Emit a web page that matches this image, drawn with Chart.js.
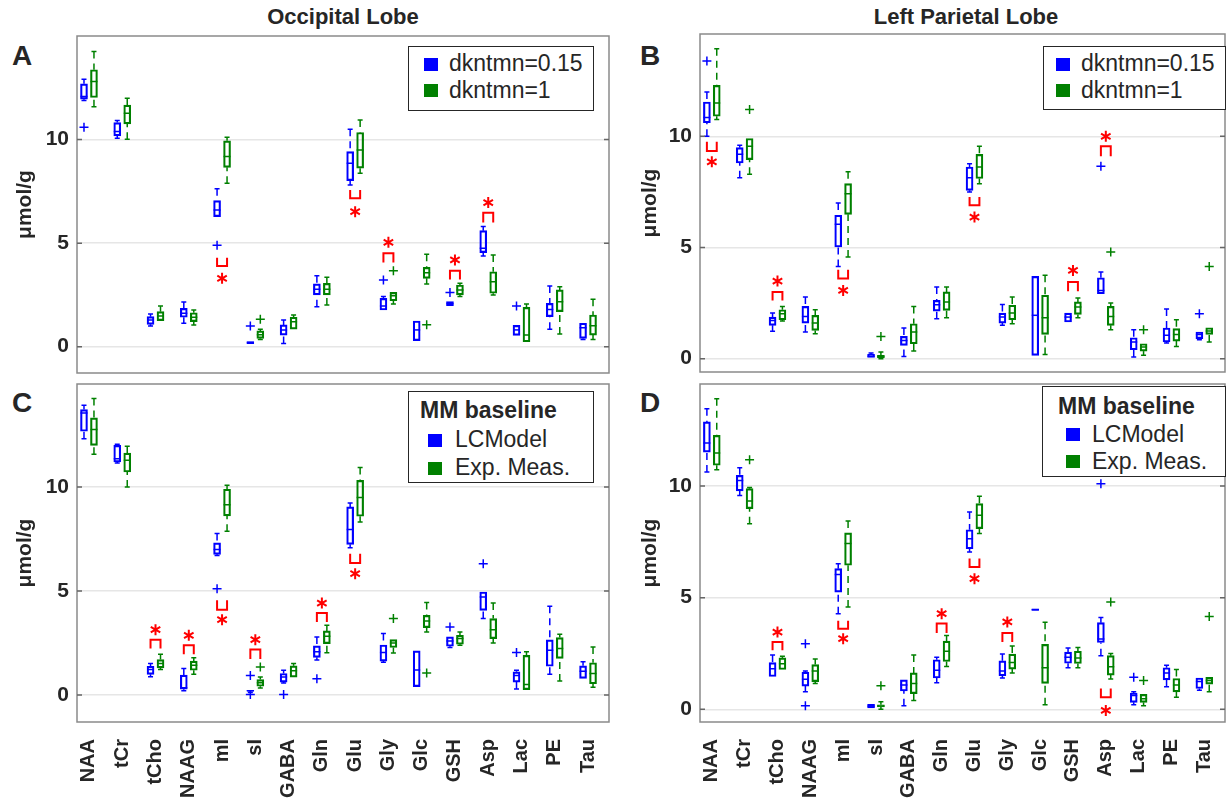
<!DOCTYPE html>
<html>
<head>
<meta charset="utf-8">
<script src="https://cdn.jsdelivr.net/npm/chart.js@4.4.1/dist/chart.umd.min.js"></script>
<style>
  body { margin: 0; background: #fff; width: 1231px; height: 798px; position: relative; overflow: hidden;
         font-family: "Liberation Sans", Arial, sans-serif; color: #262626; }
  canvas { position: absolute; }
  .title { position: absolute; font-weight: bold; font-size: 22px; line-height: 22px; white-space: nowrap; transform: translateX(-50%); }
  .letter { position: absolute; font-weight: bold; font-size: 28px; line-height: 28px; }
  .legend { position: absolute; box-sizing: border-box; border: 1.5px solid #262626; background: #fff; }
  .legend span { position: absolute; white-space: nowrap; font-size: 23px; line-height: 23px; }
  .legend .head { font-weight: bold; }
  .legend .sw { width: 14px; height: 13px; }
</style>
</head>
<body>
<div class="title" style="left:343px;top:6px">Occipital Lobe</div>
<div class="title" style="left:966px;top:6px">Left Parietal Lobe</div>
<div class="letter" style="left:12px;top:42px">A</div>
<div class="letter" style="left:640px;top:42px">B</div>
<div class="letter" style="left:12px;top:389px">C</div>
<div class="letter" style="left:640px;top:389px">D</div>

<canvas id="panelA" width="615" height="380" style="left:0;top:0"></canvas>
<canvas id="panelB" width="606" height="380" style="left:625px;top:0"></canvas>
<canvas id="panelC" width="615" height="420" style="left:0;top:378px"></canvas>
<canvas id="panelD" width="606" height="420" style="left:625px;top:378px"></canvas>

<div class="legend" style="left:408px;top:46px;width:186px;height:65px">
  <span class="sw" style="left:15px;top:11px;background:#0000ff"></span><span style="left:40px;top:5px">dkntmn=0.15</span>
  <span class="sw" style="left:15px;top:37px;background:#008000"></span><span style="left:40px;top:32px">dkntmn=1</span>
</div>
<div class="legend" style="left:1043px;top:46px;width:183px;height:64px">
  <span class="sw" style="left:12px;top:11px;background:#0000ff"></span><span style="left:37px;top:5px">dkntmn=0.15</span>
  <span class="sw" style="left:12px;top:37px;background:#008000"></span><span style="left:37px;top:32px">dkntmn=1</span>
</div>
<div class="legend" style="left:408px;top:391px;width:186px;height:92px">
  <span class="head" style="left:11px;top:7px">MM baseline</span>
  <span class="sw" style="left:19px;top:42px;background:#0000ff"></span><span style="left:46px;top:36px">LCModel</span>
  <span class="sw" style="left:19px;top:70px;background:#008000"></span><span style="left:46px;top:64px">Exp. Meas.</span>
</div>
<div class="legend" style="left:1042px;top:386px;width:184px;height:91px">
  <span class="head" style="left:15px;top:8px">MM baseline</span>
  <span class="sw" style="left:23px;top:41px;background:#0000ff"></span><span style="left:49px;top:36px">LCModel</span>
  <span class="sw" style="left:23px;top:68px;background:#008000"></span><span style="left:49px;top:63px">Exp. Meas.</span>
</div>

<script>
const categories = ['NAA', 'tCr', 'tCho', 'NAAG', 'mI', 'sI', 'GABA', 'Gln', 'Glu', 'Gly', 'Glc', 'GSH', 'Asp', 'Lac', 'PE', 'Tau'];
const yTicks = [0, 5, 10];

// each row: [lower whisker, Q1, median, Q3, upper whisker], one row per metabolite
const occDkn015 = [
  [11.88, 11.95, 12.08, 12.69, 12.91], [10.06, 10.18, 10.39, 10.82, 10.92], [1.0, 1.08, 1.29, 1.45, 1.58],
  [1.13, 1.42, 1.61, 1.85, 2.16], [6.25, 6.28, 6.60, 7.05, 7.63], [0.13, 0.15, 0.2, 0.25, 0.27],
  [0.16, 0.56, 0.81, 1.05, 1.29], [1.93, 2.50, 2.77, 3.03, 3.43], [7.81, 8.02, 8.86, 9.42, 10.5],
  [1.74, 1.77, 1.96, 2.33, 2.42], [0.29, 0.29, 0.81, 1.24, 1.24], [1.94, 1.98, 2.08, 2.18, 2.2],
  [4.38, 4.54, 4.75, 5.60, 5.80], [0.52, 0.55, 0.81, 1.03, 1.06], [0.84, 1.45, 1.80, 2.09, 2.93],
  [0.35, 0.40, 0.92, 1.13, 1.16]
];
const occDkn1 = [
  [11.59, 12.03, 12.80, 13.37, 14.25], [10.02, 10.76, 11.27, 11.66, 12.0], [1.24, 1.26, 1.48, 1.69, 1.96],
  [1.05, 1.21, 1.42, 1.64, 1.77], [7.89, 8.66, 9.18, 9.94, 10.11], [0.35, 0.40, 0.58, 0.76, 0.84],
  [0.81, 0.85, 1.21, 1.42, 1.53], [2.01, 2.50, 2.77, 3.06, 3.35], [8.37, 8.62, 9.50, 10.34, 10.95],
  [2.06, 2.22, 2.46, 2.62, 2.65], [3.03, 3.30, 3.57, 3.83, 4.46], [2.42, 2.50, 2.74, 2.98, 3.06],
  [2.50, 2.58, 3.14, 3.62, 4.43], [0.24, 0.24, 0.56, 1.90, 2.06], [0.61, 1.69, 2.17, 2.74, 2.90],
  [0.35, 0.56, 1.01, 1.53, 2.29]
];
const parDkn015 = [
  [10.0, 10.61, 10.84, 11.54, 11.99], [8.14, 8.80, 9.19, 9.49, 9.6], [1.23, 1.50, 1.72, 1.87, 2.05],
  [1.20, 1.60, 1.90, 2.35, 2.77], [4.15, 5.02, 6.04, 6.45, 7.0], [0.04, 0.06, 0.11, 0.19, 0.25],
  [0.1, 0.6, 0.82, 1.0, 1.38], [1.80, 2.14, 2.42, 2.62, 3.22], [7.50, 7.57, 8.14, 8.62, 8.77],
  [1.50, 1.60, 1.87, 2.05, 2.44], [0.15, 0.15, 1.95, 3.70, 3.70], [1.62, 1.65, 1.87, 2.05, 2.08],
  [2.89, 2.92, 3.07, 3.64, 3.90], [0.07, 0.40, 0.75, 0.94, 1.30], [0.70, 0.75, 1.05, 1.38, 2.23],
  [0.85, 0.90, 1.09, 1.20, 1.24]
];
const parDkn1 = [
  [10.75, 10.9, 11.5, 12.29, 13.94], [8.29, 8.95, 9.55, 9.90, 9.92], [1.69, 1.75, 2.02, 2.20, 2.35],
  [1.12, 1.27, 1.60, 1.95, 2.2], [4.57, 6.49, 7.42, 7.87, 8.40], [0.0, 0.05, 0.1, 0.15, 0.3],
  [0.34, 0.67, 1.2, 1.57, 2.35], [1.84, 2.17, 2.55, 3.0, 3.22], [7.87, 8.10, 8.62, 9.19, 9.55],
  [1.57, 1.75, 2.05, 2.40, 2.77], [0.19, 1.09, 1.84, 2.85, 3.75], [1.84, 1.99, 2.32, 2.55, 2.73],
  [1.30, 1.50, 1.90, 2.35, 2.50], [0.15, 0.34, 0.52, 0.67, 0.70], [0.55, 0.79, 1.09, 1.35, 1.75],
  [0.75, 1.09, 1.24, 1.39, 1.42]
];
const occLcm = [
  [12.32, 12.68, 13.56, 13.72, 13.93], [11.15, 11.2, 11.36, 12.0, 12.05], [0.87, 0.99, 1.22, 1.38, 1.51],
  [0.2, 0.28, 0.35, 0.95, 1.27], [6.71, 6.76, 6.99, 7.31, 7.76], [0.12, 0.18, 0.2, 0.22, 0.22],
  [0.57, 0.62, 0.86, 1.03, 1.19], [1.68, 1.81, 2.08, 2.36, 2.79], [7.08, 7.24, 7.95, 9.04, 9.23],
  [1.57, 1.63, 2.04, 2.40, 2.95], [0.4, 0.4, 1.2, 2.12, 2.12], [2.28, 2.34, 2.6, 2.79, 2.8],
  [3.67, 4.07, 4.71, 4.95, 4.97], [0.29, 0.62, 0.94, 1.11, 1.19], [1.0, 1.38, 2.15, 2.65, 4.26],
  [0.78, 0.80, 1.14, 1.40, 1.6]
];
const occExp = [
  [11.57, 12.0, 12.76, 13.32, 14.25], [10.0, 10.72, 11.28, 11.63, 11.96], [1.22, 1.30, 1.51, 1.70, 1.96],
  [0.99, 1.19, 1.43, 1.63, 1.79], [7.87, 8.61, 9.15, 9.89, 10.08], [0.34, 0.42, 0.59, 0.74, 0.86],
  [0.83, 0.86, 1.16, 1.40, 1.51], [2.03, 2.47, 2.82, 3.08, 3.35], [8.32, 8.59, 9.49, 10.32, 10.93],
  [2.02, 2.28, 2.5, 2.66, 2.7], [3.03, 3.24, 3.56, 3.83, 4.44], [2.39, 2.44, 2.71, 2.87, 3.03],
  [2.50, 2.71, 3.14, 3.67, 4.42], [0.24, 0.26, 0.5, 1.90, 2.08], [0.67, 1.76, 2.23, 2.76, 2.92],
  [0.37, 0.54, 1.03, 1.55, 2.3]
];
const parLcm = [
  [10.63, 11.52, 11.93, 12.87, 13.46], [9.58, 9.78, 10.25, 10.48, 10.82], [1.45, 1.47, 1.82, 2.09, 2.43],
  [0.78, 1.04, 1.35, 1.66, 1.71], [4.28, 5.25, 6.04, 6.30, 6.52], [0.05, 0.06, 0.14, 0.22, 0.23],
  [0.16, 0.82, 1.09, 1.32, 1.35], [1.19, 1.40, 1.75, 2.22, 2.33], [7.04, 7.19, 7.64, 8.04, 8.84],
  [1.40, 1.50, 1.71, 2.17, 2.48], [4.43, 4.43, 4.46, 4.50, 4.50], [1.86, 2.06, 2.33, 2.56, 2.74],
  [2.40, 2.99, 3.15, 3.88, 4.11], [0.2, 0.31, 0.62, 0.73, 0.78], [1.01, 1.32, 1.63, 1.86, 1.97],
  [0.85, 0.93, 1.24, 1.40, 1.44]
];
const parExp = [
  [10.73, 10.93, 11.48, 12.27, 13.91], [8.31, 8.99, 9.33, 9.88, 9.93], [1.75, 1.78, 2.04, 2.30, 2.37],
  [1.15, 1.24, 1.72, 2.0, 2.25], [4.58, 6.45, 7.42, 7.90, 8.43], [0.0, 0.1, 0.15, 0.2, 0.34],
  [0.39, 0.70, 1.16, 1.63, 2.43], [1.92, 2.14, 2.6, 3.05, 3.3], [7.87, 8.09, 8.69, 9.21, 9.54],
  [1.62, 1.80, 2.10, 2.47, 2.83], [0.2, 1.16, 1.86, 2.91, 3.9], [1.86, 2.05, 2.3, 2.6, 2.77],
  [1.36, 1.53, 1.9, 2.4, 2.5], [0.16, 0.31, 0.47, 0.67, 0.69], [0.54, 0.78, 1.09, 1.38, 1.78],
  [0.78, 1.13, 1.29, 1.43, 1.44]
];

// outliers: [metabolite index, value]
const occDkn015Out = [[0, 10.6], [4, 4.90], [5, 1.0], [9, 3.22], [11, 2.62], [13, 1.96]];
const occDkn1Out = [[5, 1.32], [9, 3.67], [10, 1.06]];
const parDkn015Out = [[0, 13.39], [12, 8.65], [15, 2.02]];
const parDkn1Out = [[1, 11.2], [5, 1.0], [12, 4.80], [13, 1.30], [15, 4.15]];
const occLcmOut = [[4, 5.11], [5, 0.94], [5, 0.02], [6, 0.02], [7, 0.78], [11, 3.27], [12, 6.31], [13, 2.04]];
const occExpOut = [[5, 1.35], [9, 3.67], [10, 1.06]];
const parLcmOut = [[3, 2.93], [3, 0.16], [12, 10.1], [13, 1.44]];
const parExpOut = [[1, 11.18], [5, 1.05], [12, 4.81], [13, 1.29], [15, 4.16]];

// significant pairs: [metabolite index, bracket side, bracket from, bracket to, asterisk]
const occDknSig = [[4, 'down', 3.9, 4.3, 3.3], [8, 'down', 7.17, 7.57, 6.52], [9, 'up', 4.06, 4.51, 5.04],
  [11, 'up', 3.25, 3.67, 4.19], [12, 'up', 5.99, 6.47, 6.96]];
const parDknSig = [[0, 'down', 9.34, 9.75, 8.85], [2, 'up', 2.62, 3.0, 3.49], [4, 'down', 3.6, 4.0, 3.07],
  [8, 'down', 6.9, 7.27, 6.37], [11, 'up', 3.03, 3.45, 3.97], [12, 'up', 9.10, 9.55, 10.0]];
const occMmSig = [[2, 'up', 2.23, 2.66, 3.14], [3, 'up', 1.96, 2.39, 2.87], [4, 'down', 4.10, 4.55, 3.62],
  [5, 'up', 1.73, 2.18, 2.66], [7, 'up', 3.51, 3.94, 4.42], [8, 'down', 6.35, 6.79, 5.83]];
const parMmSig = [[2, 'up', 2.64, 3.01, 3.46], [4, 'down', 3.61, 3.96, 3.16], [7, 'up', 3.42, 3.84, 4.28],
  [8, 'down', 6.37, 6.75, 5.85], [9, 'up', 3.01, 3.42, 3.91], [12, 'down', 0.54, 0.93, -0.05]];

const BLUE = '#0000ff';
const GREEN = '#008000';
const RED = '#ff0000';
const SHIFT = 0.15; // half distance between the two boxes of a pair
const FONT = '"Liberation Sans", Arial, sans-serif';

// whiskers, medians, caps, significance marks and the axes frame
function boxPlugin(blue, green, sig) {
  return {
    id: 'boxDecor',
    afterDatasetsDraw(chart) {
      const { ctx, chartArea: a } = chart;
      const x = chart.scales.x, y = chart.scales.y;
      ctx.save();
      ctx.lineCap = 'butt';
      [[blue, BLUE, -SHIFT], [green, GREEN, SHIFT]].forEach(([rows, color, dx]) => {
        ctx.strokeStyle = color;
        ctx.lineWidth = 1.5;
        rows.forEach((r, i) => {
          const px = x.getPixelForValue(i + dx);
          const [lo, q1, med, q3, hi] = r.map(v => y.getPixelForValue(v));
          ctx.setLineDash([7, 5]);
          ctx.beginPath();
          if (q3 - hi > 1) { ctx.moveTo(px, hi); ctx.lineTo(px, q3); }
          if (lo - q1 > 1) { ctx.moveTo(px, lo); ctx.lineTo(px, q1); }
          ctx.stroke();
          ctx.setLineDash([]);
          ctx.beginPath();
          if (q3 - hi > 1) { ctx.moveTo(px - 2.5, hi); ctx.lineTo(px + 2.5, hi); }
          if (lo - q1 > 1) { ctx.moveTo(px - 2.5, lo); ctx.lineTo(px + 2.5, lo); }
          ctx.moveTo(px - 3.5, med); ctx.lineTo(px + 3.5, med);
          ctx.stroke();
        });
      });

      ctx.strokeStyle = RED;
      ctx.lineWidth = 2;
      sig.forEach(([i, side, from, to, star]) => {
        const x0 = x.getPixelForValue(i - SHIFT), x1 = x.getPixelForValue(i + SHIFT);
        const yf = y.getPixelForValue(from), yt = y.getPixelForValue(to);
        ctx.beginPath();
        if (side === 'up') {
          ctx.moveTo(x0, yf); ctx.lineTo(x0, yt); ctx.lineTo(x1, yt); ctx.lineTo(x1, yf);
        } else {
          ctx.moveTo(x0, yt); ctx.lineTo(x0, yf); ctx.lineTo(x1, yf); ctx.lineTo(x1, yt);
        }
        ctx.stroke();
        const cx = x.getPixelForValue(i), cy = y.getPixelForValue(star);
        ctx.beginPath();
        for (let k = 0; k < 3; k++) {
          const ang = Math.PI / 2 + k * Math.PI / 3;
          ctx.moveTo(cx - 5.5 * Math.cos(ang), cy - 5.5 * Math.sin(ang));
          ctx.lineTo(cx + 5.5 * Math.cos(ang), cy + 5.5 * Math.sin(ang));
        }
        ctx.stroke();
      });

      // axes box with inward ticks on both sides
      ctx.strokeStyle = '#8a8a8a';
      ctx.lineWidth = 1.5;
      ctx.strokeRect(a.left, a.top, a.right - a.left, a.bottom - a.top);
      ctx.strokeStyle = '#666';
      ctx.beginPath();
      yTicks.forEach(v => {
        const py = y.getPixelForValue(v);
        ctx.moveTo(a.left, py); ctx.lineTo(a.left + 5, py);
        ctx.moveTo(a.right, py); ctx.lineTo(a.right - 5, py);
      });
      ctx.stroke();
      ctx.restore();
    }
  };
}

function boxDataset(rows, color, dx) {
  return {
    data: rows.map((r, i) => ({ x: i + dx, y: [r[1], r[3]] })),
    borderColor: color,
    backgroundColor: 'rgba(0,0,0,0)',
    borderWidth: 1.5,
    borderSkipped: false,
    barThickness: 7,
    grouped: false
  };
}

function outlierDataset(points, color, dx) {
  return {
    type: 'scatter',
    data: points.map(([i, v]) => ({ x: i + dx, y: v })),
    showLine: false,
    pointStyle: 'cross',
    pointRadius: 4.5,
    borderColor: color,
    borderWidth: 1.5
  };
}

function makePanel(id, blue, green, blueOut, greenOut, sig, yMin, yMax, axisWidth, pad, withLabels) {
  new Chart(document.getElementById(id), {
    type: 'bar',
    data: {
      datasets: [
        boxDataset(blue, BLUE, -SHIFT),
        boxDataset(green, GREEN, SHIFT),
        outlierDataset(blueOut, BLUE, -SHIFT),
        outlierDataset(greenOut, GREEN, SHIFT)
      ]
    },
    options: {
      responsive: false,
      animation: false,
      events: [],
      layout: { padding: pad },
      plugins: { legend: { display: false }, tooltip: { enabled: false } },
      scales: {
        x: {
          type: 'linear',
          min: -0.36,
          max: 15.63,
          offset: false,
          display: withLabels,
          grid: { display: false },
          border: { display: false },
          afterBuildTicks: s => { s.ticks = categories.map((c, i) => ({ value: i })); },
          afterFit: s => { s.height = withLabels ? 76 : 0; s.paddingLeft = 0; s.paddingRight = 0; },
          ticks: {
            autoSkip: false,
            minRotation: 90,
            maxRotation: 90,
            padding: 9,
            color: '#262626',
            font: { family: FONT, size: 20, weight: 'bold' },
            callback: v => categories[v]
          }
        },
        y: {
          min: yMin,
          max: yMax,
          afterBuildTicks: s => { s.ticks = yTicks.map(v => ({ value: v })); },
          afterFit: s => { s.width = axisWidth; s.paddingTop = 0; s.paddingBottom = 0; },
          grid: { color: '#e6e6e6', lineWidth: 1.5, drawTicks: false },
          border: { display: false },
          ticks: {
            padding: 8,
            color: '#262626',
            font: { family: FONT, size: 21, weight: 'bold' },
            callback: v => v
          },
          title: {
            display: true,
            text: 'μmol/g',
            color: '#262626',
            font: { family: FONT, size: 21, weight: 'bold' },
            padding: { top: 13, bottom: 0 }
          }
        }
      }
    },
    plugins: [boxPlugin(blue, green, sig)]
  });
}

makePanel('panelA', occDkn015, occDkn1, occDkn015Out, occDkn1Out, occDknSig, -1.27, 15, 77,
  { left: 0, top: 36, right: 6, bottom: 7 }, false);
makePanel('panelB', parDkn015, parDkn1, parDkn015Out, parDkn1Out, parDknSig, -0.6, 14.6, 75,
  { left: 0, top: 34, right: 0, bottom: 8 }, false);
makePanel('panelC', occLcm, occExp, occLcmOut, occExpOut, occMmSig, -1.3, 14.95, 77,
  { left: 0, top: 6, right: 6, bottom: 0 }, true);
makePanel('panelD', parLcm, parExp, parLcmOut, parExpOut, parMmSig, -0.57, 14.57, 75,
  { left: 0, top: 6, right: 0, bottom: 0 }, true);
</script>
</body>
</html>
